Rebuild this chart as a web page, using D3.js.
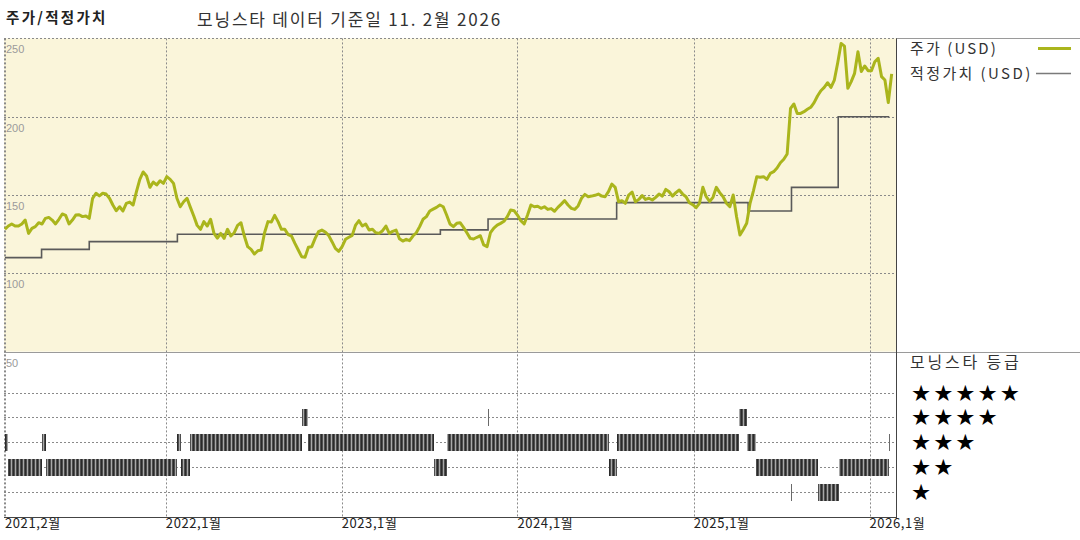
<!DOCTYPE html>
<html><head><meta charset="utf-8">
<script src="https://cdn.jsdelivr.net/npm/d3@7"></script>
<style>
body{margin:0;background:#fff;}
svg{display:block;font-family:"Noto Sans CJK KR","Noto Sans",sans-serif;}
</style></head><body>
<svg id="c" width="1080" height="540"></svg>
<script>
// ---------- DATA ----------
const yTicks = [250, 200, 150, 100, 50];
const xTickDates = ["2021-02-01", "2022-01-01", "2023-01-01", "2024-01-01", "2025-01-01", "2026-01-01"];
const xTickLabels = ["2021,2월", "2022,1월", "2023,1월", "2024,1월", "2025,1월", "2026,1월"];

// weekly closing prices (USD), first week starting 2021-02-01
const priceStart = "2021-02-01";
const priceValues = [
128.1,130.2,131.5,130.2,130.2,131.5,134.0,125.5,128.7,129.8,132.3,131.5,135.1,135.7,134.0,131.5,134.5,137.9,137.0,131.5,
134.0,137.2,137.4,136.2,136.6,135.1,147.9,151.1,149.4,151.1,150.6,147.9,143.6,140.0,142.5,139.8,144.7,145.5,143.6,152.1,
160.0,164.7,162.1,154.9,158.3,156.4,159.1,157.4,161.7,160.0,157.4,147.9,142.5,145.7,147.9,142.1,136.6,130.6,128.1,133.0,
130.2,134.5,125.5,122.5,125.5,122.3,128.1,123.8,125.9,130.6,132.3,123.8,117.0,115.3,112.3,114.4,114.9,125.9,133.0,132.7,
137.0,133.0,128.1,128.1,124.7,123.8,119.1,114.9,110.6,110.2,116.6,117.0,122.3,126.6,127.6,126.4,124.2,120.2,115.9,114.0,
117.0,121.7,123.0,124.2,130.8,133.6,130.2,131.5,127.6,128.1,125.9,125.5,127.2,130.2,125.5,126.8,127.6,122.1,120.6,121.7,
120.8,123.8,125.9,129.8,134.5,136.2,139.8,141.0,142.1,143.6,142.5,137.2,131.5,129.8,131.9,132.3,129.3,125.9,122.3,121.9,
123.0,124.0,118.1,117.0,125.9,128.9,130.8,131.9,133.2,136.2,140.4,140.0,137.2,133.6,131.5,137.2,143.6,142.5,142.8,141.5,
142.5,140.8,141.3,139.6,142.1,144.2,146.4,143.6,141.5,140.8,143.0,147.9,150.4,148.9,149.3,149.8,150.6,149.3,148.9,152.1,
157.0,154.9,145.7,146.4,144.7,150.0,151.9,145.7,147.2,149.6,147.2,147.9,146.8,148.5,150.6,149.3,153.6,152.1,149.3,151.5,
153.2,150.6,148.9,145.1,143.8,141.9,144.7,154.9,148.9,145.9,148.5,154.9,151.5,148.9,144.7,142.5,150.0,136.1,124.4,128.0,
131.9,144.7,152.7,161.7,161.3,161.7,160.0,163.8,164.9,167.2,170.6,172.8,176.2,205.3,208.1,202.1,202.1,203.2,204.7,206.0,
209.0,213.2,216.6,218.7,221.7,218.7,223.4,234.5,246.8,245.1,218.1,222.4,227.7,241.5,228.8,232.4,229.4,229.4,235.1,237.3,
225.6,223.4,209.0,227.3
];

// fair value (step after)
const fvDates = ["2021-02-01","2021-04-18","2021-07-26","2022-01-25","2023-07-25","2023-11-01","2024-07-25","2025-04-24","2025-07-23","2025-10-28","2026-02-11"];
const fvValues = [110.0, 115.3, 120.2, 124.9, 127.7, 134.7, 145.1, 139.8, 154.9, 200.0, 200.0];

// Morningstar rating periods
const ratingStart = ["2021-02-01","2021-02-08","2021-04-18","2021-04-27","2022-01-24","2022-02-01","2022-02-21","2022-10-10","2022-10-23","2023-07-12","2023-08-08","2023-11-01","2024-07-09","2024-07-26","2025-04-05","2025-04-22","2025-05-10","2025-07-22","2025-09-16","2025-10-30","2026-02-10"];
const ratingEnd   = ["2021-02-08","2021-04-18","2021-04-27","2022-01-24","2022-02-01","2022-02-20","2022-10-10","2022-10-23","2023-07-12","2023-08-08","2024-07-09","2023-11-01","2024-07-26","2025-04-05","2025-04-22","2025-05-10","2025-09-16","2025-07-22","2025-10-30","2026-02-10","2026-02-10"];
const ratingStars = [3,2,3,2,3,2,3,4,3,2,3,4,2,3,4,3,2,1,1,2,3];

const legendStars = [5, 4, 3, 2, 1];

// ---------- CHART ----------
const parse = d3.utcParse("%Y-%m-%d");
const svg = d3.select("#c");

const plotL = 4, plotR = 896, plotT = 38.4, priceB = 351.6, plotB = 517;
const x = d3.scaleUtc().domain([parse("2021-01-30"), parse("2026-02-25")]).range([plotL, plotR]);
const y = d3.scaleLinear().domain([50, 250]).range([priceB, plotT]);
const yr = d3.scaleLinear().domain([1, 5]).range([491.7, 392.5]);

// pattern for rating bars
const defs = svg.append("defs");
const pat = defs.append("pattern").attr("id", "stripe").attr("patternUnits", "userSpaceOnUse")
  .attr("width", 4).attr("height", 20);
pat.append("rect").attr("width", 4).attr("height", 20).attr("fill", "#4e4e4e");
pat.append("rect").attr("x", 3).attr("width", 1).attr("height", 20).attr("fill", "#a8a8a8");
pat.append("rect").attr("x", 1).attr("width", 1).attr("height", 20).attr("fill", "#2a2a2a");

// backgrounds
svg.append("rect").attr("x", plotL).attr("y", plotT).attr("width", plotR - plotL).attr("height", priceB - plotT)
  .attr("fill", "#faf5da");

const grid = svg.append("g").attr("stroke", "#8a8a8a").attr("stroke-dasharray", "2,2").attr("stroke-width", 1);
grid.selectAll("line.h").data(yTicks.filter(v => v !== 50)).join("line").attr("class", "h")
  .attr("x1", plotL).attr("x2", plotR).attr("y1", d => Math.round(y(d)) + 0.5).attr("y2", d => Math.round(y(d)) + 0.5);
grid.selectAll("line.r").data(legendStars).join("line").attr("class", "r")
  .attr("x1", plotL).attr("x2", plotR).attr("y1", d => Math.round(yr(d)) + 0.5).attr("y2", d => Math.round(yr(d)) + 0.5);
grid.selectAll("line.v").data(xTickDates).join("line").attr("class", "v")
  .attr("x1", d => Math.round(x(parse(d))) + 0.5).attr("x2", d => Math.round(x(parse(d))) + 0.5)
  .attr("y1", plotT).attr("y2", plotB);
grid.append("line").attr("x1", plotL + 0.5).attr("x2", plotL + 0.5).attr("y1", plotT).attr("y2", plotB);

svg.append("line").attr("x1", plotL).attr("x2", 1080).attr("y1", Math.round(priceB) + 0.5).attr("y2", Math.round(priceB) + 0.5)
  .attr("stroke", "#9a9a9a").attr("stroke-width", 1);
svg.append("line").attr("x1", plotR).attr("x2", 1080).attr("y1", 38.5).attr("y2", 38.5).attr("stroke", "#9a9a9a");

// y tick labels
svg.append("g").selectAll("text").data(yTicks).join("text")
  .attr("x", plotL + 2).attr("y", d => y(d) + 15)
  .attr("font-size", 11).attr("fill", "#9a9a9a").attr("font-family", "Liberation Sans, Arial, sans-serif")
  .text(d => d);

// fair value step line
const fv = fvDates.map((d, i) => ({ date: parse(d), v: fvValues[i] }));
svg.append("path").datum(fv)
  .attr("d", d3.line().x(d => x(d.date)).y(d => y(d.v)).curve(d3.curveStepAfter))
  .attr("fill", "none").attr("stroke", "#5a5a5a").attr("stroke-width", 1.6);

// price line
const p0 = parse(priceStart);
const price = priceValues.map((v, i) => ({ date: d3.utcDay.offset(p0, 7 * i), v }));
svg.append("path").datum(price)
  .attr("d", d3.line().x(d => x(d.date)).y(d => y(d.v)))
  .attr("fill", "none").attr("stroke", "#aab51c").attr("stroke-width", 3).attr("stroke-linejoin", "round");

// rating bars
const ratings = ratingStars.map((s, i) => ({ s, a: parse(ratingStart[i]), b: parse(ratingEnd[i]) }));
svg.append("g").selectAll("rect").data(ratings).join("rect")
  .attr("x", d => Math.round(x(d.a)))
  .attr("width", d => Math.max(1, Math.round(x(d.b)) - Math.round(x(d.a))))
  .attr("y", d => Math.round(yr(d.s)) - 8)
  .attr("height", 17)
  .attr("fill", d => (x(d.b) - x(d.a)) < 1.5 ? "#6a6a6a" : "url(#stripe)");

// frame lines
svg.append("line").attr("x1", plotL).attr("x2", plotR + 1).attr("y1", plotB + 0.5).attr("y2", plotB + 0.5).attr("stroke", "#444");
svg.append("line").attr("x1", plotR + 0.5).attr("x2", plotR + 0.5).attr("y1", plotT).attr("y2", plotB + 1).attr("stroke", "#444");

// x tick labels
svg.append("g").selectAll("text").data(xTickDates).join("text")
  .attr("x", d => x(parse(d))).attr("y", 528)
  .attr("font-size", 13).attr("letter-spacing", 0.6).attr("fill", "#222")
  .text((d, i) => xTickLabels[i]);

// titles
svg.append("text").attr("x", 6).attr("y", 23).attr("font-size", 14.5).attr("font-weight", "bold")
  .attr("letter-spacing", 2.3).attr("fill", "#222")
  .text("주가/적정가치");
svg.append("text").attr("x", 197).attr("y", 26).attr("font-size", 17).attr("letter-spacing", 1.8).attr("fill", "#333")
  .text("모닝스타 데이터 기준일 11. 2월 2026");

// legend
const lg = svg.append("g");
lg.append("text").attr("x", 910).attr("y", 54).attr("font-size", 15).attr("letter-spacing", 2.1).attr("fill", "#333").text("주가 (USD)");
lg.append("line").attr("x1", 1038).attr("x2", 1071).attr("y1", 48.5).attr("y2", 48.5).attr("stroke", "#aab51c").attr("stroke-width", 3);
lg.append("text").attr("x", 910).attr("y", 79).attr("font-size", 15).attr("letter-spacing", 2.4).attr("fill", "#333").text("적정가치 (USD)");
lg.append("line").attr("x1", 1036).attr("x2", 1071).attr("y1", 73.5).attr("y2", 73.5).attr("stroke", "#7a7a7a").attr("stroke-width", 1.5);

lg.append("text").attr("x", 910).attr("y", 368).attr("font-size", 16).attr("letter-spacing", 2.8).attr("fill", "#333").text("모닝스타 등급");
lg.selectAll("text.st").data(legendStars).join("text").attr("class", "st")
  .attr("x", 911).attr("y", d => yr(d) + 8)
  .attr("font-size", 22.5).attr("letter-spacing", 2.0).attr("fill", "#000").attr("font-family", "DejaVu Sans, sans-serif")
  .text(d => "★".repeat(d));
</script>
</body></html>
